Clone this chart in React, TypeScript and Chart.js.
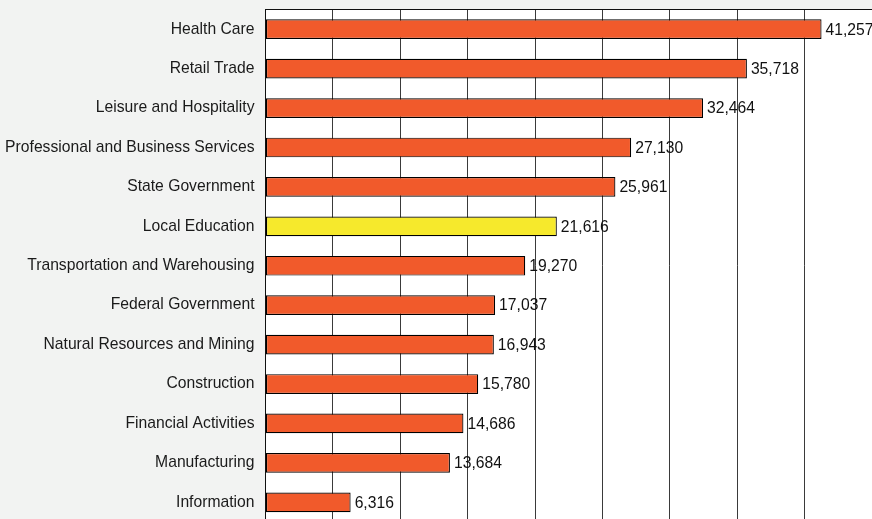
import React, { useEffect, useRef } from "react";
import { Chart, registerables } from "chart.js";

Chart.register(...registerables);

const categories = [
  "Health Care",
  "Retail Trade",
  "Leisure and Hospitality",
  "Professional and Business Services",
  "State Government",
  "Local Education",
  "Transportation and Warehousing",
  "Federal Government",
  "Natural Resources and Mining",
  "Construction",
  "Financial Activities",
  "Manufacturing",
  "Information",
];

const values = [41257, 35718, 32464, 27130, 25961, 21616, 19270, 17037, 16943, 15780, 14686, 13684, 6316];

const highlighted = "Local Education";

const xMin = 0;
const xMax = 45000;
const xStep = 5000;

const ORANGE = "#f15a2b";
const YELLOW = "#f6e92c";
const BG = "#f2f3f2";
const FONT = "'Liberation Sans', Arial, Helvetica, sans-serif";
const FONT_SIZE = 15.7;

const plotBgPlugin = {
  id: "plotBg",
  beforeDraw(chart: any) {
    const { ctx, chartArea } = chart;
    ctx.save();
    ctx.fillStyle = "#ffffff";
    ctx.fillRect(chartArea.left, chartArea.top, chartArea.right - chartArea.left, chartArea.bottom - chartArea.top);
    ctx.restore();
  },
};

const valueLabelPlugin = {
  id: "valueLabels",
  afterDatasetsDraw(chart: any) {
    const { ctx } = chart;
    const meta = chart.getDatasetMeta(0);
    ctx.save();
    ctx.font = `${FONT_SIZE}px ${FONT}`;
    ctx.fillStyle = "#111111";
    ctx.textAlign = "left";
    ctx.textBaseline = "middle";
    meta.data.forEach((bar: any, i: number) => {
      const v = chart.data.datasets[0].data[i] as number;
      ctx.fillText(v.toLocaleString("en-US"), bar.x + 4, bar.y + 1);
    });
    ctx.restore();
  },
};

const zeroPad = (scale: any) => {
  scale.paddingTop = 0;
  scale.paddingBottom = 0;
  scale.paddingLeft = 0;
  scale.paddingRight = 0;
};

export default function App() {
  const ref = useRef<HTMLCanvasElement | null>(null);

  useEffect(() => {
    if (!ref.current) return;
    const chart = new Chart(ref.current, {
      type: "bar",
      data: {
        labels: categories,
        datasets: [
          {
            data: values,
            backgroundColor: categories.map((c) => (c === highlighted ? YELLOW : ORANGE)),
            borderColor: "#000000",
            borderWidth: 1.2,
            borderSkipped: false,
            categoryPercentage: 1,
            barPercentage: 0.5,
          },
        ],
      },
      options: {
        indexAxis: "y",
        animation: false,
        responsive: false,
        maintainAspectRatio: false,
        devicePixelRatio: 1,
        layout: { padding: { left: 0, right: 0, top: 9.5, bottom: 0 } },
        plugins: {
          legend: { display: false },
          tooltip: { enabled: false },
          title: { display: false },
        },
        scales: {
          x: {
            type: "linear",
            position: "bottom",
            min: xMin,
            max: xMax,
            ticks: { display: false, stepSize: xStep },
            grid: { display: true, color: "#3a3a3a", lineWidth: 1, drawTicks: false },
            border: { display: true, color: "#111" },
            afterFit(scale: any) {
              scale.height = 0;
              zeroPad(scale);
            },
          },
          x2: {
            type: "linear",
            position: "top",
            min: xMin,
            max: xMax,
            ticks: { display: false },
            grid: { display: false, drawTicks: false },
            border: { display: true, color: "#111" },
            afterFit(scale: any) {
              scale.height = 0;
              zeroPad(scale);
            },
          },
          y: {
            type: "category",
            ticks: {
              color: "#1a1a1a",
              padding: 11,
              font: { family: FONT, size: FONT_SIZE },
              autoSkip: false,
            },
            grid: { display: false, drawTicks: false },
            border: { display: true, color: "#111" },
            afterFit(scale: any) {
              scale.width = 265.5;
              zeroPad(scale);
            },
          },
        },
      },
      plugins: [plotBgPlugin, valueLabelPlugin],
    });
    return () => chart.destroy();
  }, []);

  return (
    <div
      style={{
        position: "fixed",
        left: 0,
        top: 0,
        width: 872,
        height: 519,
        overflow: "hidden",
        background: BG,
      }}
    >
      <canvas ref={ref} width={872} height={522} style={{ display: "block", width: 872, height: 522 }} />
    </div>
  );
}
